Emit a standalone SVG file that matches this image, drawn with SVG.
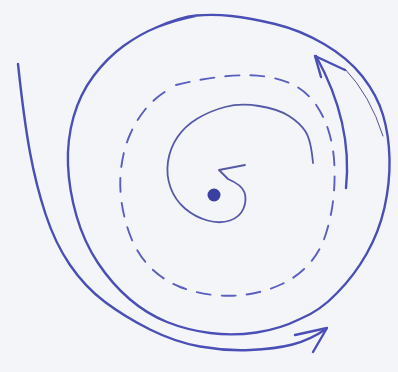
<svg xmlns="http://www.w3.org/2000/svg" width="398" height="372" viewBox="0 0 398 372">
  <style>
    .pen { fill: none; stroke: #4a4fb6; stroke-width: 2.4; stroke-linecap: round; stroke-linejoin: round; }
    .thin { fill: none; stroke: #5559a8; stroke-width: 1.8; stroke-linecap: round; stroke-linejoin: round; }
    .dash { fill: none; stroke: #5a5fc0; stroke-width: 1.9; stroke-linecap: round; stroke-dasharray: 14 11; }
    .hair { fill: none; stroke: #50548c; stroke-width: 1; stroke-linecap: round; }
  </style>
  <rect x="0" y="0" width="398" height="372" fill="#f4f5f9"/>
  <g id="outer-loop">
    <path class="pen" d="M 155,28 Q 180,17 196.5,15.5 Q 213,14 231.5,16 Q 250,18 275,24 Q 300,30 324,44 Q 348,58 362.5,76.5 Q 377,95 383,115 Q 389,135 389.5,159 Q 390,183 384.5,207.5 Q 379,232 366.5,254 Q 354,276 337,293 Q 320,311 300,319 Q 280,329 256.5,332.5 Q 233,336 210,333 Q 187,330 167,322 Q 147,314 129.5,299 Q 112,284 98,263 Q 84,242 76.5,216 Q 69,190 68,165 Q 67,140 73.5,117 Q 80,94 93.5,76 Q 107,58 123.5,46 Q 140,34 157.5,27 Q 175,20 195,16"/>
  </g>
  <g id="dashed-loop">
    <path class="dash" d="M 176,85 Q 200,79 223.5,76.5 Q 247,74 265,76.5 Q 283,79 295.5,86 Q 308,93 316.5,105.5 Q 325,118 329.5,134 Q 334,150 334.5,167.5 Q 335,185 333,201.5 Q 331,218 325.5,235 Q 320,252 308.5,264.5 Q 297,277 282,284 Q 267,291 250,294 Q 233,297 214,295 Q 195,293 179,286.5 Q 163,280 150.5,267.5 Q 138,255 131,237.5 Q 124,220 121.5,201.5 Q 119,183 121.5,165.5 Q 124,148 130,134.5 Q 136,121 144,111 Q 152,101 161,94.5 Q 166,91 170,88"/>
  </g>
  <g id="inner-spiral">
    <path class="thin" d="M 313,163 Q 311,140 305.5,131.5 Q 300,123 289,116 Q 278,109 259,106 Q 240,103 225,107 Q 210,111 197.5,118.5 Q 185,126 177.5,137 Q 170,148 168,161.5 Q 166,175 170.5,187.5 Q 175,200 185,208.5 Q 195,217 207.5,220.5 Q 220,224 230,220.5 Q 240,217 243.5,208.5 Q 247,200 244.5,192.5 Q 242,185 228,179 L 219,170 L 245,165"/>
  </g>
  <g id="center">
    <circle cx="214" cy="195" r="6.5" fill="#3b3fa0"/>
  </g>
  <g id="connectors">
    <path class="pen" d="M 18,64 Q 24,120 30,152.5 Q 36,185 45.5,214 Q 55,243 70,265 Q 85,287 105,302 Q 125,317 150,329.5 Q 175,342 200,346.5 Q 225,351 250,350 Q 275,349 292.5,344.5 Q 310,340 326,329"/>
    <path class="pen" d="M 295,335 L 327,328 L 313,352"/>
    <path class="pen" d="M 346,188 C 350,150 343,105 316,56"/>
    <path class="pen" stroke-width="3" d="M 321,77 L 315,56 L 345,70"/>
    <path class="hair" d="M 345,69 Q 370,95 383,136"/>
  </g>
</svg>
